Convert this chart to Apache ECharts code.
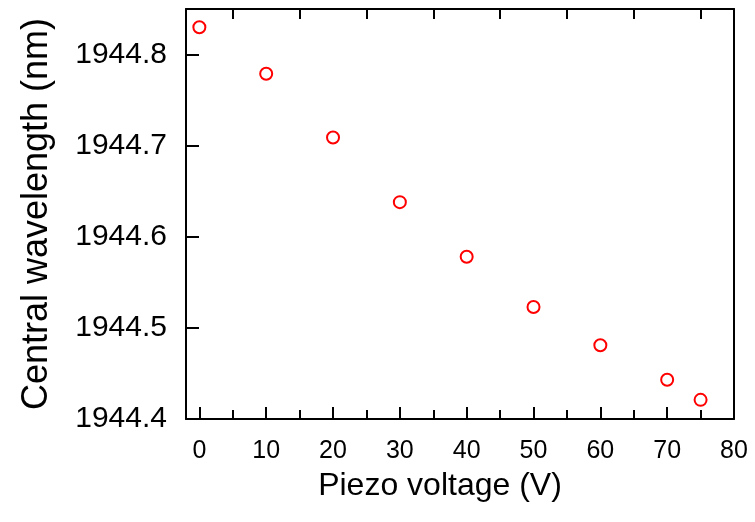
<!DOCTYPE html>
<html>
<head>
<meta charset="utf-8">
<script src="https://cdn.jsdelivr.net/npm/echarts@6/dist/echarts.min.js"></script>
<style>
  html, body { margin: 0; padding: 0; background: #fff; }
  #chart { width: 755px; height: 522px; }
</style>
</head>
<body>
<div id="chart"></div>
<script>
// 数据
const voltage = [0, 10, 20, 30, 40, 50, 60, 70, 75];
const wavelength = [1944.830, 1944.779, 1944.709, 1944.638, 1944.578, 1944.523, 1944.481, 1944.443, 1944.421];
const xTicks = [0, 10, 20, 30, 40, 50, 60, 70, 80];
const xMinorTicks = [5, 15, 25, 35, 45, 55, 65, 75];
const yTicks = [1944.4, 1944.5, 1944.6, 1944.7, 1944.8];

const font = 'Liberation Sans, Arial, sans-serif';
const lineStyle = { color: '#000', width: 2 };

const chart = echarts.init(document.getElementById('chart'));

chart.setOption({
  animation: false,
  backgroundColor: '#fff',
  grid: { left: 186, top: 9, right: 21, bottom: 103, outerBoundsMode: 'none' },
  xAxis: [
    {
      type: 'value',
      position: 'bottom',
      min: -2,
      max: 80,
      name: 'Piezo voltage (V)',
      nameLocation: 'middle',
      nameGap: 51,
      nameTextStyle: { fontFamily: font, fontSize: 32, color: '#000', padding: [0, 40, 0, 0] },
      axisLine: { show: true, onZero: false, lineStyle: lineStyle },
      axisTick: { show: true, inside: true, length: 12, lineStyle: lineStyle, customValues: xTicks },
      axisLabel: { fontFamily: font, fontSize: 25, color: '#000', margin: 20, customValues: xTicks },
      splitLine: { show: false },
    },
    {
      type: 'value',
      position: 'top',
      min: -2,
      max: 80,
      axisLine: { show: true, onZero: false, lineStyle: lineStyle },
      axisTick: { show: true, inside: true, length: 10, lineStyle: lineStyle, customValues: xMinorTicks },
      axisLabel: { show: false },
      splitLine: { show: false },
    },
    {
      type: 'value',
      position: 'bottom',
      min: -2,
      max: 80,
      axisLine: { show: false, onZero: false },
      axisTick: { show: true, inside: true, length: 9, lineStyle: lineStyle, customValues: xMinorTicks },
      axisLabel: { show: false },
      splitLine: { show: false },
    },
  ],
  yAxis: [
    {
      type: 'value',
      position: 'left',
      min: 1944.4,
      max: 1944.85,
      name: 'Central wavelength (nm)',
      nameLocation: 'middle',
      nameGap: 131,
      nameTextStyle: { fontFamily: font, fontSize: 36, color: '#000' },
      axisLine: { show: true, onZero: false, lineStyle: lineStyle },
      axisTick: { show: true, inside: true, length: 13, lineStyle: lineStyle, customValues: yTicks },
      axisLabel: {
        fontFamily: font,
        fontSize: 30,
        color: '#000',
        margin: 19,
        customValues: yTicks,
        formatter: (v) => v.toFixed(1),
      },
      splitLine: { show: false },
    },
    {
      type: 'value',
      position: 'right',
      min: 1944.4,
      max: 1944.85,
      axisLine: { show: true, onZero: false, lineStyle: lineStyle },
      axisTick: { show: false },
      axisLabel: { show: false },
      splitLine: { show: false },
    },
  ],
  series: [
    {
      type: 'scatter',
      xAxisIndex: 0,
      yAxisIndex: 0,
      data: voltage.map((v, i) => [v, wavelength[i]]),
      symbol: 'emptyCircle',
      symbolSize: 12,
      itemStyle: { color: '#ff0000', borderColor: '#ff0000', borderWidth: 2.2, opacity: 1 },
    },
  ],
});
</script>
</body>
</html>
